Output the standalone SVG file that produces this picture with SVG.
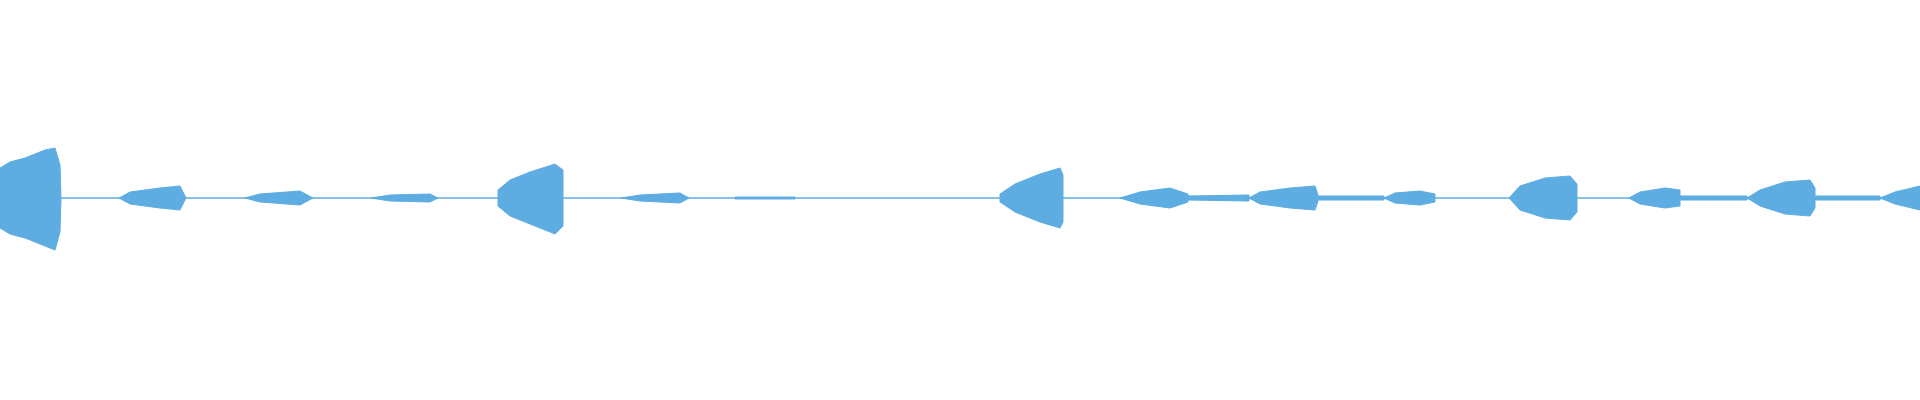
<svg xmlns="http://www.w3.org/2000/svg" width="1920" height="400" viewBox="0 0 1920 400">
<style>.w{fill:#5dade2;stroke:#5dade2;stroke-width:1}.l{stroke:#5dade2;stroke-width:1.5}</style>
<rect width="1920" height="400" fill="#fff"/>
<line class="l" x1="0" y1="198" x2="1920" y2="198"/>
<g id="wave">
<path class="w" d="M0,168 L10,162 L25,158 L45,150 L55,148 L60,165 L61,198 L60,232 L55,250 L45,246 L25,238 L10,234 L0,228 Z"/>
<path class="w" d="M119,198 L130,192 L160,188 L180,186 L186,198 L180,210 L160,208 L130,204 Z"/>
<path class="w" d="M245,198 L260,194 L300,191 L313,198 L300,205 L260,202 Z"/>
<path class="w" d="M371,198 L390,195 L430,194 L438,198 L430,202 L390,201 Z"/>
<path class="w" d="M498,190 L510,180 L530,172 L555,164 L563,170 L563,226 L555,234 L530,224 L510,216 L498,206 Z"/>
<path class="w" d="M621,198 L640,195 L680,193 L689,198 L680,203 L640,201 Z"/>
<path class="w" d="M735,197 L795,197 L795,199 L735,199 Z"/>
<path class="w" d="M1000,194 L1015,184 L1040,174 L1060,168 L1063,175 L1063,222 L1060,228 L1040,222 L1015,212 L1000,202 Z"/>
<path class="w" d="M1120,198 L1140,192 L1170,188 L1188,194 L1188,202 L1170,208 L1140,204 Z"/>
<path class="w" d="M1188,196 L1249,195 L1249,201 L1188,200 Z"/>
<path class="w" d="M1249,198 L1260,192 L1290,188 L1315,186 L1319,198 L1315,210 L1290,208 L1260,204 Z"/>
<path class="w" d="M1319,196 L1384,196 L1384,200 L1319,200 Z"/>
<path class="w" d="M1384,198 L1395,193 L1420,191 L1435,194 L1435,202 L1420,205 L1395,203 Z"/>
<path class="w" d="M1509,198 L1520,186 L1545,178 L1570,176 L1577,184 L1577,212 L1570,220 L1545,218 L1520,210 Z"/>
<path class="w" d="M1629,198 L1640,192 L1665,188 L1680,190 L1680,206 L1665,208 L1640,204 Z"/>
<path class="w" d="M1680,196 L1747,196 L1747,200 L1680,200 Z"/>
<path class="w" d="M1747,198 L1760,190 L1785,182 L1810,180 L1815,188 L1815,208 L1810,216 L1785,214 L1760,206 Z"/>
<path class="w" d="M1815,196 L1880,196 L1880,200 L1815,200 Z"/>
<path class="w" d="M1880,198 L1895,192 L1920,186 L1920,210 L1895,204 Z"/>
</g>
</svg>
